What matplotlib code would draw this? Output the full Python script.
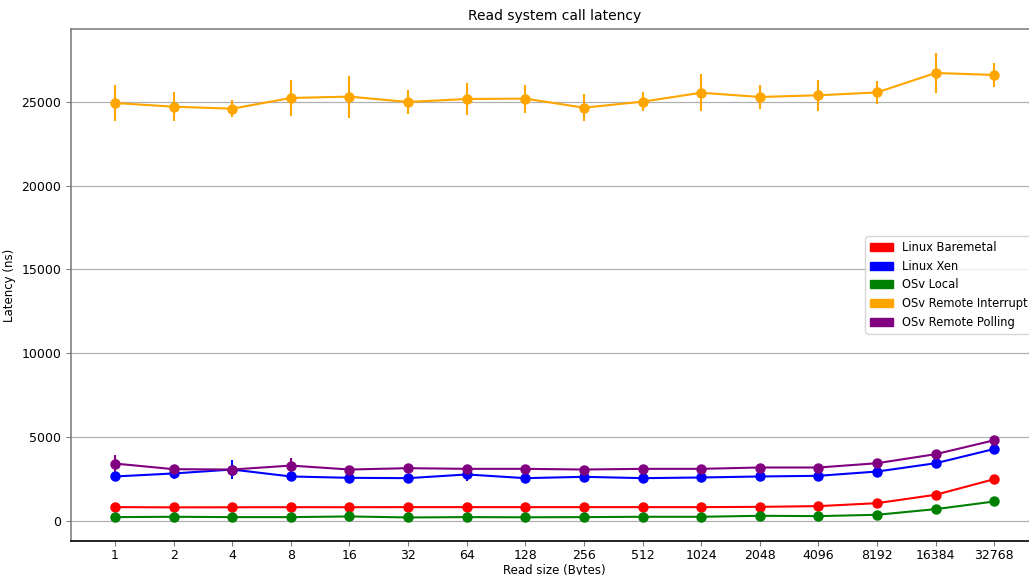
import numpy as np
import matplotlib
matplotlib.use("Agg")
import matplotlib.pyplot as plt
from matplotlib.patches import Patch

# read sizes in bytes (powers of two)
sizes = [1, 2, 4, 8, 16, 32, 64, 128, 256, 512, 1024, 2048, 4096, 8192, 16384, 32768]

# mean latency (ns) and std per configuration
baremetal = [833, 820, 825, 830, 828, 833, 833, 833, 833, 833, 833, 850, 893, 1070, 1570, 2500]
baremetal_err = [40] * 16
xen = [2660, 2840, 3075, 2660, 2580, 2560, 2780, 2560, 2640, 2560, 2600, 2660, 2700, 2955, 3450, 4300]
xen_err = [150, 330, 560, 150, 100, 100, 380, 100, 100, 100, 100, 100, 100, 100, 100, 100]
osv_local = [238, 258, 238, 238, 278, 218, 238, 228, 238, 258, 258, 317, 297, 377, 714, 1170]
osv_local_err = [40] * 16
osv_interrupt = [24920, 24700, 24580, 25220, 25300, 24980, 25160, 25180,
                 24640, 25000, 25530, 25280, 25380, 25550, 26710, 26590]
osv_interrupt_err = [1080, 880, 520, 1100, 1250, 720, 930, 840,
                     820, 560, 1100, 740, 920, 680, 1190, 740]
osv_polling = [3430, 3095, 3075, 3310, 3075, 3155, 3115, 3115,
               3075, 3115, 3115, 3195, 3195, 3450, 3990, 4820]
osv_polling_err = [500, 100, 100, 440, 100, 100, 100, 100, 100, 100, 100, 100, 100, 100, 100, 100]

labels = ["Linux Baremetal", "Linux Xen", "OSv Local", "OSv Remote Interrupt", "OSv Remote Polling"]
colors = ["red", "blue", "green", "orange", "purple"]

series = [(baremetal, baremetal_err), (xen, xen_err), (osv_local, osv_local_err),
          (osv_interrupt, osv_interrupt_err), (osv_polling, osv_polling_err)]

fig = plt.figure(figsize=(10.29, 5.75), dpi=100)
ax = fig.add_axes([0.069, 0.059, 0.94, 0.891])

x = np.arange(len(sizes))
for (mean, err), c in zip(series, colors):
    ax.errorbar(x, mean, yerr=err, color=c, marker="o", markersize=6.5,
                linewidth=1.5, elinewidth=1.5, capsize=0)

ax.set_xticks(x)
ax.set_xticklabels([str(s) for s in sizes])
ax.set_xlim(-0.75, 15.75)
ax.set_ylim(-1190, 29345)
ax.set_yticks([0, 5000, 10000, 15000, 20000, 25000])
ax.yaxis.grid(True, color="#b0b0b0", linewidth=0.9)
ax.set_axisbelow(True)

# left/top frame in grey, bottom stays black
for side in ["left", "top", "right"]:
    ax.spines[side].set_color("#808080")
    ax.spines[side].set_linewidth(1.2)
ax.spines["bottom"].set_linewidth(1.2)
ax.tick_params(colors="#808080", labelcolor="black", labelsize=9)
ax.tick_params(axis="x", pad=2.5)

ax.set_title("Read system call latency", fontsize=10)
ax.set_xlabel("Read size (Bytes)", fontsize=8.5, labelpad=1)
ax.set_ylabel("Latency (ns)", fontsize=8.5)

handles = [Patch(color=c, label=l) for c, l in zip(colors, labels)]
ax.legend(handles=handles, loc="center right", fontsize=8.3)

fig.savefig("out.png", dpi=100)
